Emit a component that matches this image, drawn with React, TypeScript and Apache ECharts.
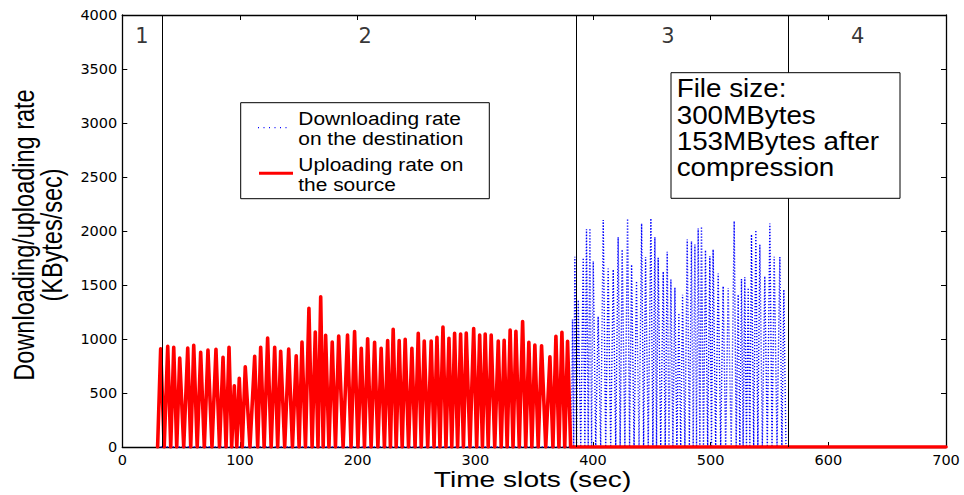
import React, { useEffect, useRef } from "react";
import * as echarts from "echarts";

// Uploading rate on the source: peak times (sec) and peak values (KBytes/sec)
const upPeakT = [
  32.6, 38.6, 43.7, 48.8, 55.6, 60.7, 66.6, 72.8, 79.6, 85.6, 90.7, 95.2, 99.4, 104.5,
  112.5, 117.6, 123.5, 129.5, 134.6, 141.4, 147.8, 152.7, 158.6, 164.0, 168.6, 172.8,
  178.4, 183.9, 191.4, 197.4, 203.1, 208.5, 214.4, 220.0, 225.5, 230.2, 235.3, 240.4,
  246.1, 251.5, 256.6, 262.5, 267.4, 272.5, 277.6, 282.4, 287.5, 292.3, 298.6, 303.7,
  308.4, 313.5, 319.5, 324.5, 329.6, 334.5, 340.2, 345.5, 350.6, 356.3, 363.4, 368.5,
  373.6, 378.4,
];
const upPeakV = [
  910, 932, 923, 824, 916, 941, 876, 898, 904, 830, 923, 567, 635, 743,
  839, 923, 1009, 923, 885, 907, 845, 972, 1285, 1065, 1390, 1034,
  972, 1028, 1037, 1068, 913, 1003, 969, 913, 985, 1090, 985, 997,
  913, 1053, 981, 981, 1015, 1111, 1006, 1053, 1046, 1056, 1096, 1037,
  1046, 1037, 981, 988, 1084, 1071, 1161, 969, 944, 938, 836, 1025,
  1062, 978,
];
const upStart = 30;
const upEnd = 381;

// Downloading rate on the destination: peak times and peak values
const dlPeakT = [
  382.6, 384.6, 387.5, 391.7, 394.5, 397.4, 400.2, 404.4, 408.7, 412.9, 417.2, 421.4,
  424.8, 429.4, 432.8, 437.0, 441.3, 444.7, 449.2, 452.6, 455.4, 459.7, 463.1, 466.2,
  469.6, 473.0, 476.1, 480.1, 483.7, 486.6, 489.4, 492.2, 495.6, 499.3, 502.1, 506.4,
  510.6, 514.9, 520.0, 523.4, 526.2, 529.0, 531.9, 534.7, 538.4, 541.8, 546.0, 550.3,
  554.0, 558.8, 562.2,
];
const dlPeakV = [
  1180, 1761, 1361, 1751, 2015, 2024, 1720, 1209, 2101, 1652, 1643, 1943,
  1829, 2114, 1689, 1535, 2070, 1758, 2117, 1943, 1752, 1624, 1808, 1550,
  1476, 1240, 1410, 1922, 1906, 1875, 2024, 2040, 1823, 1767, 1829, 1606,
  1488, 1473, 2092, 1410, 1557, 1572, 1473, 1968, 2008, 1873, 1581, 2070,
  1761, 1761, 1458,
];
const dlStart = 30;
const dlRiseT = 381.5;
const dlEnd = 564;
const xEnd = 700;

const dividers = [34.1, 385.5, 566.2];
const regionNames = ["1", "2", "3", "4"];
const regionX = [16.7, 206.5, 463.6, 625];
const regionY = 3805;

const legendLabels = ["Downloading rate\non the destination", "Uploading rate on\nthe source"];
const noteLines = ["File size:", "300MBytes", "153MBytes after", "compression"];
const xTitle = "Time slots (sec)";
const yTitle = ["Downloading/uploading rate", "(KBytes/sec)"];

function buildTrace(start: number, riseT: number | null, peaksT: number[], peaksV: number[], endT: number, lastT: number) {
  const out: number[][] = [[start, 0]];
  if (riseT !== null) out.push([riseT, 0]);
  for (let i = 0; i < peaksT.length; i++) {
    out.push([peaksT[i], peaksV[i]]);
    if (i < peaksT.length - 1) out.push([(peaksT[i] + peaksT[i + 1]) / 2, 0]);
  }
  out.push([endT, 0]);
  out.push([lastT, 0]);
  return out;
}

const SANS = "'Liberation Sans', Arial, Helvetica, sans-serif";
const TICKFONT = "'DejaVu Sans', sans-serif";

export default function App() {
  const ref = useRef<HTMLDivElement>(null);
  useEffect(() => {
    if (!ref.current) return;
    const chart = echarts.init(ref.current, undefined, { renderer: "svg" });
    const upData = buildTrace(upStart, null, upPeakT, upPeakV, upEnd, xEnd);
    const dlData = buildTrace(dlStart, dlRiseT, dlPeakT, dlPeakV, dlEnd, xEnd);

    const axisCommonX = {
      type: "value" as const,
      min: 0,
      max: 700,
      interval: 100,
      splitLine: { show: false },
      axisLine: { show: true, onZero: false, lineStyle: { color: "#000", width: 1.3 } },
      axisTick: { show: true, inside: true, length: 5, lineStyle: { color: "#000", width: 1 } },
    };
    const axisCommonY = {
      type: "value" as const,
      min: 0,
      max: 4000,
      interval: 500,
      splitLine: { show: false },
      axisLine: { show: true, onZero: false, lineStyle: { color: "#000", width: 1.3 } },
      axisTick: { show: true, inside: true, length: 5, lineStyle: { color: "#000", width: 1 } },
    };
    const plain = (v: number) => String(v);

    const noteTexts = noteLines.map((line, i) => ({
      type: "text",
      x: 676.7,
      y: 88.8 + i * 26.3,
      scaleX: 1.07,
      z: 101,
      style: {
        text: line,
        fontSize: 26,
        fontFamily: SANS,
        fill: "#000",
        align: "left",
        verticalAlign: "middle",
        textAlign: "left",
        textVerticalAlign: "middle",
      },
    }));

    chart.setOption({
      animation: false,
      backgroundColor: "#fff",
      grid: { left: 122.3, right: 18, top: 15, bottom: 48 },
      xAxis: [
        {
          ...axisCommonX,
          position: "bottom",
          axisLabel: { color: "#000", fontSize: 14.5, fontFamily: TICKFONT, margin: 5, formatter: plain },
        },
        { ...axisCommonX, position: "top", axisLabel: { show: false } },
      ],
      yAxis: [
        {
          ...axisCommonY,
          position: "left",
          axisLabel: { color: "#000", fontSize: 14.5, fontFamily: TICKFONT, margin: 5, formatter: plain },
        },
        { ...axisCommonY, position: "right", axisLabel: { show: false } },
      ],
      series: [
        {
          name: "Downloading rate on the destination",
          type: "line",
          xAxisIndex: 0,
          yAxisIndex: 0,
          data: dlData,
          symbol: "none",
          showSymbol: false,
          lineStyle: { color: "#0000ff", width: 1.4, type: [1.2, 1.8] },
          z: 2,
        },
        {
          name: "Uploading rate on the source",
          type: "line",
          xAxisIndex: 0,
          yAxisIndex: 0,
          data: upData,
          symbol: "none",
          showSymbol: false,
          lineStyle: { color: "#ff0000", width: 3.6, join: "round", cap: "round" },
          z: 3,
          markLine: {
            silent: true,
            symbol: ["none", "none"],
            label: { show: false },
            lineStyle: { color: "#000", width: 1, type: "solid" },
            data: dividers.map((x) => ({ xAxis: x })),
          },
        },
        {
          type: "scatter",
          xAxisIndex: 0,
          yAxisIndex: 0,
          symbolSize: 1,
          itemStyle: { color: "rgba(0,0,0,0)" },
          data: regionX.map((x, i) => ({ name: regionNames[i], value: [x, regionY] })),
          label: {
            show: true,
            position: "inside",
            formatter: "{b}",
            color: "#000",
            fontSize: 21,
            fontFamily: TICKFONT,
          },
          z: 5,
        },
      ],
      graphic: [
        {
          type: "text",
          x: 532.5,
          y: 479.5,
          scaleX: 1.28,
          z: 100,
          style: {
            text: xTitle,
            fontSize: 22,
            fontFamily: SANS,
            fill: "#000",
            align: "center",
            verticalAlign: "middle",
            textAlign: "center",
            textVerticalAlign: "middle",
          },
        },
        {
          type: "text",
          x: 38,
          y: 235,
          rotation: Math.PI / 2,
          scaleY: 1.25,
          z: 100,
          style: {
            text: yTitle.join("\n"),
            fontSize: 23.5,
            lineHeight: 22,
            fontFamily: SANS,
            fill: "#000",
            align: "center",
            verticalAlign: "middle",
            textAlign: "center",
            textVerticalAlign: "middle",
          },
        },
        {
          type: "rect",
          z: 100,
          shape: { x: 240.7, y: 102.7, width: 248.6, height: 96 },
          style: { fill: "#fff", stroke: "#000", lineWidth: 1 },
        },
        {
          type: "line",
          z: 101,
          shape: { x1: 258, y1: 127.7, x2: 290, y2: 127.7 },
          style: { stroke: "#0000ff", lineWidth: 1.2, lineDash: [1, 4.5] },
        },
        {
          type: "line",
          z: 101,
          shape: { x1: 259, y1: 173.3, x2: 293, y2: 173.3 },
          style: { stroke: "#ff0000", lineWidth: 3 },
        },
        {
          type: "text",
          x: 298.3,
          y: 128.2,
          scaleX: 1.1,
          z: 101,
          style: {
            text: legendLabels[0],
            fontSize: 19,
            lineHeight: 20,
            fontFamily: SANS,
            fill: "#000",
            align: "left",
            verticalAlign: "middle",
            textAlign: "left",
            textVerticalAlign: "middle",
          },
        },
        {
          type: "text",
          x: 298.3,
          y: 173.9,
          scaleX: 1.1,
          z: 101,
          style: {
            text: legendLabels[1],
            fontSize: 19,
            lineHeight: 20,
            fontFamily: SANS,
            fill: "#000",
            align: "left",
            verticalAlign: "middle",
            textAlign: "left",
            textVerticalAlign: "middle",
          },
        },
        {
          type: "rect",
          z: 100,
          shape: { x: 671, y: 72.7, width: 229, height: 125.6 },
          style: { fill: "#fff", stroke: "#000", lineWidth: 1 },
        },
        ...noteTexts,
      ],
    });
    return () => chart.dispose();
  }, []);
  return (
    <div
      ref={ref}
      style={{ position: "fixed", left: 0, top: 0, width: 964, height: 495, background: "#fff" }}
    />
  );
}
